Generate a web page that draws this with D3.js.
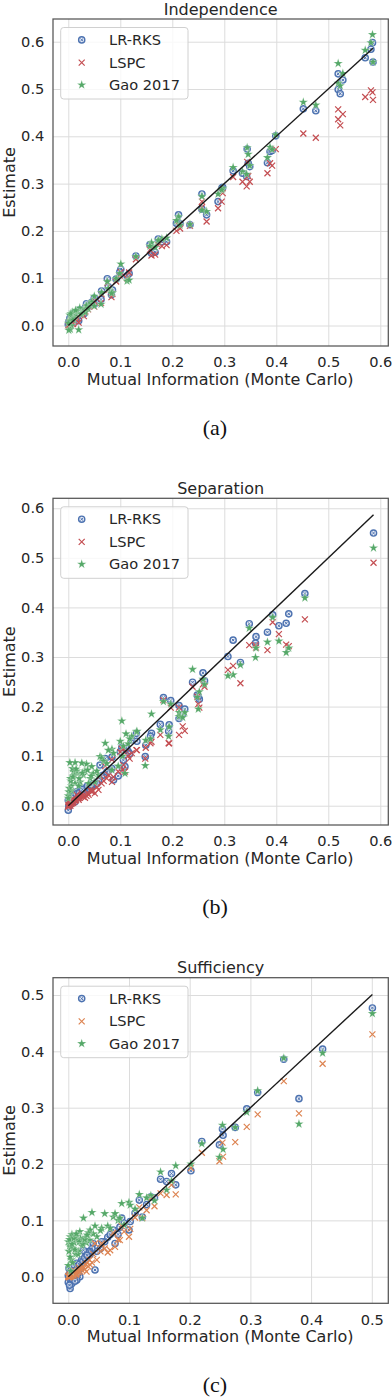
<!DOCTYPE html>
<html><head><meta charset="utf-8">
<script src="https://cdn.jsdelivr.net/npm/d3@7"></script>
<style>body{margin:0;background:#fff;}svg{display:block;}</style>
</head><body>
<svg id="chart" width="392" height="1400"></svg>
<script>
// ---------- DATA ----------
const seriesNames = ["LR-RKS", "LSPC", "Gao 2017"];
const panelTitles = ["Independence", "Separation", "Sufficiency"];
const panelCaptions = ["(a)", "(b)", "(c)"];
const xLabel = "Mutual Information (Monte Carlo)";
const yLabel = "Estimate";
const xTicksAB = [0, 0.1, 0.2, 0.3, 0.4, 0.5, 0.6];
const xTicksC = [0, 0.1, 0.2, 0.3, 0.4, 0.5];
const yTicksAB = [0, 0.1, 0.2, 0.3, 0.4, 0.5, 0.6];
const yTicksC = [0, 0.1, 0.2, 0.3, 0.4, 0.5];

// Panel (a) Independence
const xIndep   = [0.585,0.582,0.571,0.586,0.519,0.528,0.519,0.523,0.452,0.476,0.399,0.388,0.392,0.383,0.344,0.346,0.349,0.317,0.335,0.343,0.297,0.295,0.257,0.288,0.266,0.257,0.234,0.215,0.212,0.208,0.189,0.180,0.173,0.160,0.167,0.157,0.130,0.101,0.099,0.113,0.117,0.092,0.075,0.077,0.064,0.085,0.083,0.063,0.050,0.045,0.040,0.035,0.030,0.028,0.022,0.018,0.015,0.012,0.010,0.008,0.006,0.004,0.003,0.002,0.001,0.000,0.020,0.050,0.005,0.009,0.014,0.025,0.033,0.038];
const lrIndep  = [0.598,0.584,0.566,0.557,0.532,0.519,0.499,0.490,0.458,0.454,0.401,0.368,0.370,0.344,0.373,0.343,0.336,0.327,0.322,0.315,0.292,0.290,0.278,0.262,0.234,0.246,0.213,0.215,0.234,0.216,0.177,0.177,0.183,0.153,0.155,0.171,0.147,0.119,0.113,0.105,0.110,0.098,0.099,0.082,0.073,0.075,0.065,0.055,0.058,0.049,0.044,0.046,0.025,0.032,0.033,0.020,0.016,0.024,0.026,0.010,0.012,0.005,0.015,0.003,0.008,0.002,0.010,0.045,0.018,0.006,0.020,0.030,0.038,0.040];
const lspcIndep= [0.493,0.497,0.483,0.477,0.457,0.447,0.436,0.423,0.406,0.397,0.373,0.343,0.338,0.322,0.346,0.316,0.304,0.314,0.304,0.294,0.280,0.262,0.262,0.248,0.220,0.250,0.211,0.205,0.212,0.200,0.170,0.168,0.170,0.148,0.150,0.160,0.140,0.113,0.106,0.100,0.112,0.093,0.090,0.075,0.066,0.067,0.060,0.048,0.052,0.043,0.040,0.038,0.020,0.028,0.025,0.015,0.012,0.018,0.010,0.004,0.008,0.002,0.006,0.000,-0.002,0.001,0.006,0.040,0.010,0.003,0.014,0.022,0.030,0.034];
const gaoIndep = [0.615,0.598,0.582,0.557,0.554,0.533,0.512,0.507,0.472,0.466,0.403,0.377,0.372,0.355,0.376,0.362,0.338,0.334,0.325,0.320,0.290,0.287,0.273,0.278,0.241,0.244,0.214,0.212,0.230,0.222,0.185,0.183,0.180,0.175,0.165,0.168,0.146,0.130,0.110,0.094,0.096,0.099,0.093,0.078,0.070,0.070,0.068,0.045,0.062,0.050,0.045,0.042,0.035,0.030,0.037,0.026,0.030,0.020,0.015,0.028,0.000,-0.008,0.022,0.010,-0.010,0.005,-0.009,0.041,0.025,0.012,0.032,0.024,0.028,0.036];

// Panel (b) Separation
const xSep    = [0.587,0.455,0.424,0.419,0.405,0.393,0.383,0.361,0.360,0.348,0.317,0.307,0.331,0.262,0.259,0.239,0.248,0.252,0.250,0.183,0.197,0.213,0.224,0.213,0.220,0.194,0.177,0.160,0.149,0.131,0.122,0.103,0.100,0.148,0.106,0.104,0.084,0.071,0.061,0.109,0.084,0.087,0.077,0.096,0.064,0.058,0.051,0.048,0.045,0.042,0.039,0.035,0.029,0.026,0.023,0.019,0.016,0.013,0.013,0.010,0.010,0.006,0.006,0.003,0.002,0.001,0.000,0.000,0.004,0.008,0.020,0.032,0.055,0.132,0.158,0.193,0.115,0.118,0.111,0.005,0.009,0.015,0.021,0.027,0.037,0.044,0.068,0.074];
const lrSep   = [0.550,0.428,0.387,0.368,0.363,0.385,0.350,0.341,0.328,0.367,0.334,0.301,0.289,0.252,0.268,0.249,0.223,0.215,0.220,0.218,0.212,0.202,0.195,0.176,0.185,0.163,0.164,0.146,0.122,0.146,0.133,0.118,0.109,0.099,0.092,0.076,0.098,0.095,0.082,0.079,0.075,0.052,0.070,0.060,0.060,0.050,0.045,0.040,0.038,0.038,0.035,0.032,0.035,0.030,0.032,0.025,0.028,0.020,0.008,0.015,0.022,0.018,0.005,0.010,0.000,-0.001,0.011,-0.009,0.003,0.012,0.018,0.025,0.045,0.130,0.140,0.150,0.110,0.105,0.116,0.008,0.016,0.024,0.026,0.033,0.040,0.042,0.062,0.068];
const lspcSep = [0.490,0.376,0.322,0.325,0.346,0.370,0.314,0.319,0.324,0.324,0.282,0.274,0.247,0.240,0.245,0.240,0.220,0.198,0.205,0.213,0.198,0.198,0.151,0.143,0.160,0.126,0.143,0.129,0.117,0.112,0.106,0.115,0.108,0.095,0.082,0.072,0.093,0.080,0.060,0.069,0.048,0.058,0.062,0.069,0.045,0.032,0.025,0.030,0.028,0.032,0.022,0.020,0.018,0.025,0.020,0.015,0.022,0.011,0.010,0.008,0.012,0.008,0.004,0.005,0.002,0.001,0.001,-0.002,0.000,0.006,0.012,0.016,0.038,0.112,0.126,0.126,0.100,0.095,0.110,0.004,0.006,0.012,0.016,0.020,0.026,0.030,0.050,0.055];
const gaoSep  = [0.520,0.419,0.318,0.309,0.332,0.380,0.330,0.318,0.299,0.358,0.264,0.262,0.284,0.245,0.255,0.275,0.219,0.230,0.195,0.210,0.205,0.188,0.188,0.180,0.178,0.159,0.153,0.185,0.132,0.149,0.140,0.171,0.130,0.081,0.120,0.100,0.114,0.126,0.099,0.065,0.072,0.106,0.112,0.080,0.096,0.062,0.048,0.065,0.079,0.055,0.045,0.084,0.062,0.086,0.048,0.065,0.070,0.087,0.045,0.061,0.069,0.040,0.030,0.087,0.035,0.028,0.020,0.015,0.055,0.075,0.040,0.070,0.070,0.150,0.135,0.140,0.125,0.135,0.145,0.050,0.058,0.074,0.055,0.066,0.072,0.060,0.090,0.085];

// Panel (c) Sufficiency
const xSuff    = [0.501,0.419,0.355,0.312,0.380,0.294,0.275,0.254,0.255,0.249,0.220,0.202,0.177,0.170,0.162,0.152,0.136,0.117,0.122,0.100,0.102,0.088,0.074,0.077,0.082,0.060,0.055,0.053,0.047,0.044,0.041,0.039,0.036,0.035,0.033,0.030,0.028,0.025,0.022,0.019,0.017,0.014,0.014,0.012,0.010,0.008,0.006,0.005,0.003,0.003,0.002,0.001,0.000,0.000,0.004,0.007,0.016,0.020,0.065,0.069,0.085,0.092,0.142,0.129,0.110,0.002,0.004,0.006,0.009,0.011,0.013,0.018,0.024,0.027,0.031];
const lrSuff   = [0.477,0.404,0.386,0.327,0.316,0.298,0.265,0.262,0.251,0.234,0.240,0.188,0.163,0.183,0.169,0.173,0.142,0.136,0.106,0.083,0.098,0.104,0.083,0.059,0.075,0.062,0.062,0.050,0.045,0.012,0.059,0.050,0.040,0.045,0.044,0.035,0.044,0.047,0.030,0.000,0.020,-0.006,0.024,0.010,0.018,0.005,-0.012,0.008,-0.021,0.012,0.004,0.015,0.002,-0.010,-0.004,0.000,0.006,0.015,0.070,0.075,0.088,0.095,0.140,0.128,0.113,-0.015,0.008,-0.003,0.003,-0.008,0.012,0.022,0.028,0.034,0.038];
const lspcSuff = [0.430,0.378,0.347,0.288,0.290,0.266,0.239,0.238,0.213,0.205,0.220,0.193,0.146,0.163,0.145,0.148,0.140,0.123,0.104,0.071,0.085,0.090,0.078,0.053,0.066,0.050,0.059,0.045,0.030,0.059,0.040,0.025,0.021,0.030,0.018,0.009,0.022,0.015,0.012,0.010,0.008,0.009,0.006,0.004,0.005,0.003,0.002,0.001,0.000,0.002,0.000,-0.001,0.000,0.001,0.003,0.006,0.012,0.014,0.043,0.047,0.065,0.080,0.125,0.118,0.105,0.004,0.001,0.008,0.002,0.010,0.004,0.016,0.018,0.013,0.024];
const gaoSuff  = [0.467,0.397,0.388,0.330,0.271,0.292,0.265,0.269,0.226,0.212,0.236,0.200,0.197,0.170,0.154,0.186,0.144,0.146,0.104,0.132,0.127,0.130,0.106,0.112,0.100,0.112,0.086,0.082,0.071,0.090,0.076,0.114,0.083,0.065,0.078,0.060,0.070,0.104,0.055,0.080,0.045,0.065,0.072,0.040,0.060,0.050,0.075,0.030,0.071,0.035,0.055,0.045,0.020,0.062,0.010,0.025,0.040,0.068,0.090,0.086,0.104,0.092,0.135,0.140,0.120,0.066,0.052,0.058,0.068,0.048,0.076,0.062,0.058,0.066,0.074];

// ---------- RENDER ----------
const svg = d3.select("#chart");
const FONT = "'DejaVu Sans', sans-serif";
const blue = "#4c72b0", red = "#c44e52", orange = "#dd8452", green = "#55a868";

const panels = [
  {title: panelTitles[0], caption: panelCaptions[0], xs: xIndep, ys: [lrIndep, lspcIndep, gaoIndep],
   top: 19, bottom: 346, xDom: [-0.0294, 0.6154], yDom: [-0.0433, 0.648], xt: xTicksAB, yt: yTicksAB, lineMax: 0.586, lspcColor: red},
  {title: panelTitles[1], caption: panelCaptions[1], xs: xSep, ys: [lrSep, lspcSep, gaoSep],
   top: 498.3, bottom: 825, xDom: [-0.0294, 0.6154], yDom: [-0.0389, 0.6201], xt: xTicksAB, yt: yTicksAB, lineMax: 0.587, lspcColor: red},
  {title: panelTitles[2], caption: panelCaptions[2], xs: xSuff, ys: [lrSuff, lspcSuff, gaoSuff],
   top: 977.7, bottom: 1303.3, xDom: [-0.0252, 0.5272], yDom: [-0.0472, 0.5307], xt: xTicksC, yt: yTicksC, lineMax: 0.501, lspcColor: orange}
];
const L = 53, R = 388.3;

function drawCircle(g, cx, cy, col) {
  g.append("circle").attr("cx", cx).attr("cy", cy).attr("r", 3.1)
    .attr("fill", "#dfe6f2").attr("fill-opacity", 0.7).attr("stroke", col).attr("stroke-width", 1.4);
  const s = 1.3;
  g.append("path").attr("d", `M${cx-s},${cy-s}L${cx+s},${cy+s}M${cx-s},${cy+s}L${cx+s},${cy-s}`)
    .attr("stroke", col).attr("stroke-width", 1.0);
}
function drawX(g, cx, cy, col) {
  const s = 3.0;
  g.append("path").attr("d", `M${cx-s},${cy-s}L${cx+s},${cy+s}M${cx-s},${cy+s}L${cx+s},${cy-s}`)
    .attr("stroke", col).attr("stroke-width", 1.2).attr("fill", "none");
}
const star = d3.symbol().type(d3.symbolStar).size(27);
function drawStar(g, cx, cy, col) {
  g.append("path").attr("d", star()).attr("transform", `translate(${cx},${cy})`)
    .attr("fill", col).attr("stroke", "#ffffff").attr("stroke-width", 0.4).attr("stroke-opacity", 0.6);
}

panels.forEach(p => {
  const x = d3.scaleLinear().domain(p.xDom).range([L, R]);
  const y = d3.scaleLinear().domain(p.yDom).range([p.bottom, p.top]);
  const h = p.bottom - p.top, w = R - L;
  const g = svg.append("g");

  const xAxis = g.append("g").attr("transform", `translate(0,${p.bottom})`)
    .call(d3.axisBottom(x).tickValues(p.xt).tickFormat(d3.format(".1f")).tickSize(-h).tickPadding(10.9));
  xAxis.select(".domain").remove();
  xAxis.selectAll("line").attr("stroke", "#dcdcdc").attr("stroke-width", 1);
  xAxis.selectAll("text").attr("font-family", FONT).attr("font-size", "14.6px").attr("fill", "#262626");

  const yAxis = g.append("g").attr("transform", `translate(${L},0)`)
    .call(d3.axisLeft(y).tickValues(p.yt).tickFormat(d3.format(".1f")).tickSize(-w).tickPadding(8.7));
  yAxis.select(".domain").remove();
  yAxis.selectAll("line").attr("stroke", "#dcdcdc").attr("stroke-width", 1);
  yAxis.selectAll("text").attr("font-family", FONT).attr("font-size", "14.6px").attr("fill", "#262626");

  const mk = g.append("g");
  p.xs.forEach((xv, i) => drawCircle(mk, x(xv), y(p.ys[0][i]), blue));
  p.xs.forEach((xv, i) => drawX(mk, x(xv), y(p.ys[1][i]), p.lspcColor));
  p.xs.forEach((xv, i) => drawStar(mk, x(xv), y(p.ys[2][i]), green));

  g.append("line").attr("x1", x(0)).attr("y1", y(0)).attr("x2", x(p.lineMax)).attr("y2", y(p.lineMax))
    .attr("stroke", "#1a1a1a").attr("stroke-width", 1.4);

  g.append("rect").attr("x", L).attr("y", p.top).attr("width", w).attr("height", h)
    .attr("fill", "none").attr("stroke", "#555").attr("stroke-width", 1.25);

  const lg = g.append("g").attr("transform", `translate(60.7,${p.top + 8.5})`);
  lg.append("rect").attr("width", 127.3).attr("height", 71.5).attr("rx", 3)
    .attr("fill", "#fff").attr("fill-opacity", 0.8).attr("stroke", "#d0d0d0").attr("stroke-width", 1);
  const rows = [12.4, 35.1, 57.4];
  drawCircle(lg, 21, rows[0], blue);
  drawX(lg, 21, rows[1], p.lspcColor);
  drawStar(lg, 21, rows[2], green);
  seriesNames.forEach((n, i) => {
    lg.append("text").attr("x", 48.3).attr("y", rows[i] + 5.2).text(n)
      .attr("font-family", FONT).attr("font-size", "14.6px").attr("fill", "#262626");
  });

  g.append("text").attr("x", (L + R) / 2).attr("y", p.top - 4.4).attr("text-anchor", "middle")
    .attr("font-family", FONT).attr("font-size", "16px").attr("fill", "#262626").text(p.title);
  g.append("text").attr("x", (L + R) / 2 - 0.5).attr("y", p.bottom + 39).attr("text-anchor", "middle")
    .attr("font-family", FONT).attr("font-size", "16px").attr("fill", "#262626").text(xLabel);
  g.append("text").attr("transform", `translate(14.5,${(p.top + p.bottom) / 2}) rotate(-90)`).attr("text-anchor", "middle")
    .attr("font-family", FONT).attr("font-size", "16px").attr("fill", "#262626").text(yLabel);
  g.append("text").attr("x", 215).attr("y", p.bottom + 89).attr("text-anchor", "middle")
    .attr("font-family", "'Liberation Serif', 'Times New Roman', serif").attr("font-size", "22px").attr("fill", "#111").text(p.caption);
});
</script>
</body></html>
